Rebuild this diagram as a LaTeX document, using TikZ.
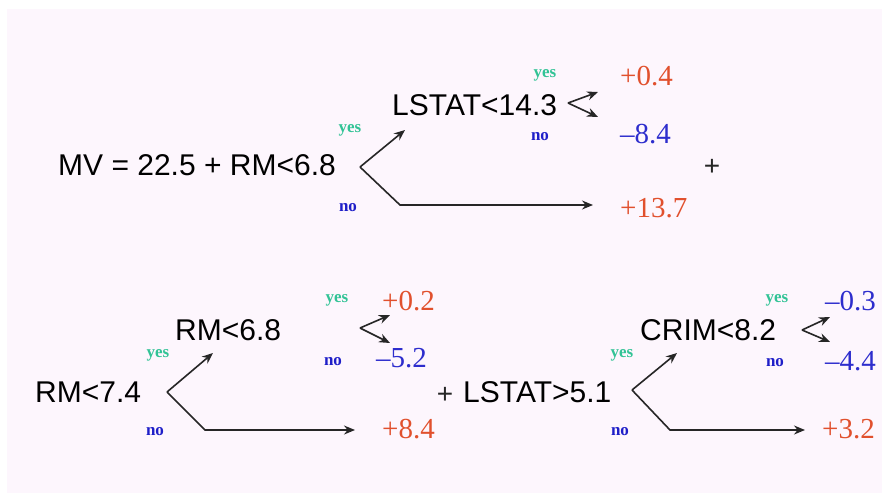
\documentclass[tikz,border=0pt]{standalone}
\usepackage{fontspec}
\setmainfont{Liberation Serif}
\setsansfont{Liberation Sans}
\usetikzlibrary{arrows.meta}
\definecolor{bgpink}{RGB}{253,246,253}
\definecolor{yescol}{RGB}{50,195,150}
\definecolor{nocol}{RGB}{30,30,200}
\definecolor{posred}{RGB}{225,80,45}
\definecolor{negblue}{RGB}{45,45,205}
\tikzset{
  cond/.style={anchor=base west, inner sep=0pt, font=\sffamily\fontsize{30}{36}\selectfont, text=black},
  posval/.style={anchor=base west, inner sep=0pt, font=\rmfamily\fontsize{29}{34}\selectfont, text=posred},
  negval/.style={anchor=base west, inner sep=0pt, font=\rmfamily\fontsize{29}{34}\selectfont, text=negblue},
  yeslbl/.style={inner sep=0pt, font=\rmfamily\bfseries\fontsize{17}{20}\selectfont, text=yescol},
  nolbl/.style={inner sep=0pt, font=\rmfamily\bfseries\fontsize{17}{20}\selectfont, text=nocol},
  plussign/.style={inner sep=0pt, font=\sffamily\fontsize{28}{32}\selectfont, text=black!85},
  branch/.style={draw=black!85, line width=1.6pt, -{Stealth[length=11pt,width=9pt]}}
}
\begin{document}
\begin{tikzpicture}[x=1pt,y=-1pt]
\useasboundingbox (0,0) rectangle (882,493);
\fill[bgpink] (7,9) rectangle (882,493);

% ---------- top tree ----------
\node[cond] (mv) at (58,175) {MV = 22.5 + RM<6.8};
\node[cond] (lstat1) at (392,115) {LSTAT<14.3};
\node[posval] (v04) at (620,85) {+0.4};
\node[negval] (v84) at (620,143) {–8.4};
\node[posval] (v137) at (620,217) {+13.7};
\node[yeslbl] (y1) at (350,130) {yes};
\node[nolbl] (n1) at (348,208) {no};
\node[yeslbl] (y2) at (545,75) {yes};
\node[nolbl] (n2) at (540,137) {no};
\node[plussign] (p1) at (712,167) {+};

\coordinate (a1) at (360,167);
\coordinate (a1y) at (405,130);
\coordinate (a1c) at (400,205);
\coordinate (a1n) at (593,205);
\draw[branch] (a1) -- (a1y);
\draw[branch] (a1) -- (a1c) -- (a1n);
\coordinate (a2) at (568,103);
\coordinate (a2y) at (598,92);
\coordinate (a2n) at (598,117);
\draw[branch] (a2) -- (a2y);
\draw[branch] (a2) -- (a2n);

% ---------- bottom left tree ----------
\node[cond] (rm74) at (35,402) {RM<7.4};
\node[cond] (rm68) at (175,340) {RM<6.8};
\node[yeslbl] (y3) at (158,355) {yes};
\node[nolbl] (n3) at (155,432) {no};
\node[yeslbl] (y4) at (337,300) {yes};
\node[nolbl] (n4) at (333,362) {no};
\node[posval] (v02) at (382,310) {+0.2};
\node[negval] (v52) at (376,367) {–5.2};
\node[posval] (v84b) at (382,438) {+8.4};
\node[plussign] (p2) at (445,395) {+};

\coordinate (b1) at (167,392);
\coordinate (b1y) at (213,353);
\coordinate (b1c) at (205,430);
\coordinate (b1n) at (355,430);
\draw[branch] (b1) -- (b1y);
\draw[branch] (b1) -- (b1c) -- (b1n);
\coordinate (b2) at (360,328);
\coordinate (b2y) at (390,315);
\coordinate (b2n) at (390,343);
\draw[branch] (b2) -- (b2y);
\draw[branch] (b2) -- (b2n);

% ---------- bottom right tree ----------
\node[cond] (lstat2) at (463,402) {LSTAT>5.1};
\node[cond] (crim) at (640,340) {CRIM<8.2};
\node[yeslbl] (y5) at (622,355) {yes};
\node[nolbl] (n5) at (620,432) {no};
\node[yeslbl] (y6) at (777,300) {yes};
\node[nolbl] (n6) at (775,363) {no};
\node[negval] (v03) at (825,310) {–0.3};
\node[negval] (v44) at (825,370) {–4.4};
\node[posval] (v32) at (822,438) {+3.2};

\coordinate (c1) at (632,390);
\coordinate (c1y) at (677,353);
\coordinate (c1c) at (670,430);
\coordinate (c1n) at (805,430);
\draw[branch] (c1) -- (c1y);
\draw[branch] (c1) -- (c1c) -- (c1n);
\coordinate (c2) at (802,330);
\coordinate (c2y) at (830,317);
\coordinate (c2n) at (830,342);
\draw[branch] (c2) -- (c2y);
\draw[branch] (c2) -- (c2n);
\end{tikzpicture}
\end{document}
